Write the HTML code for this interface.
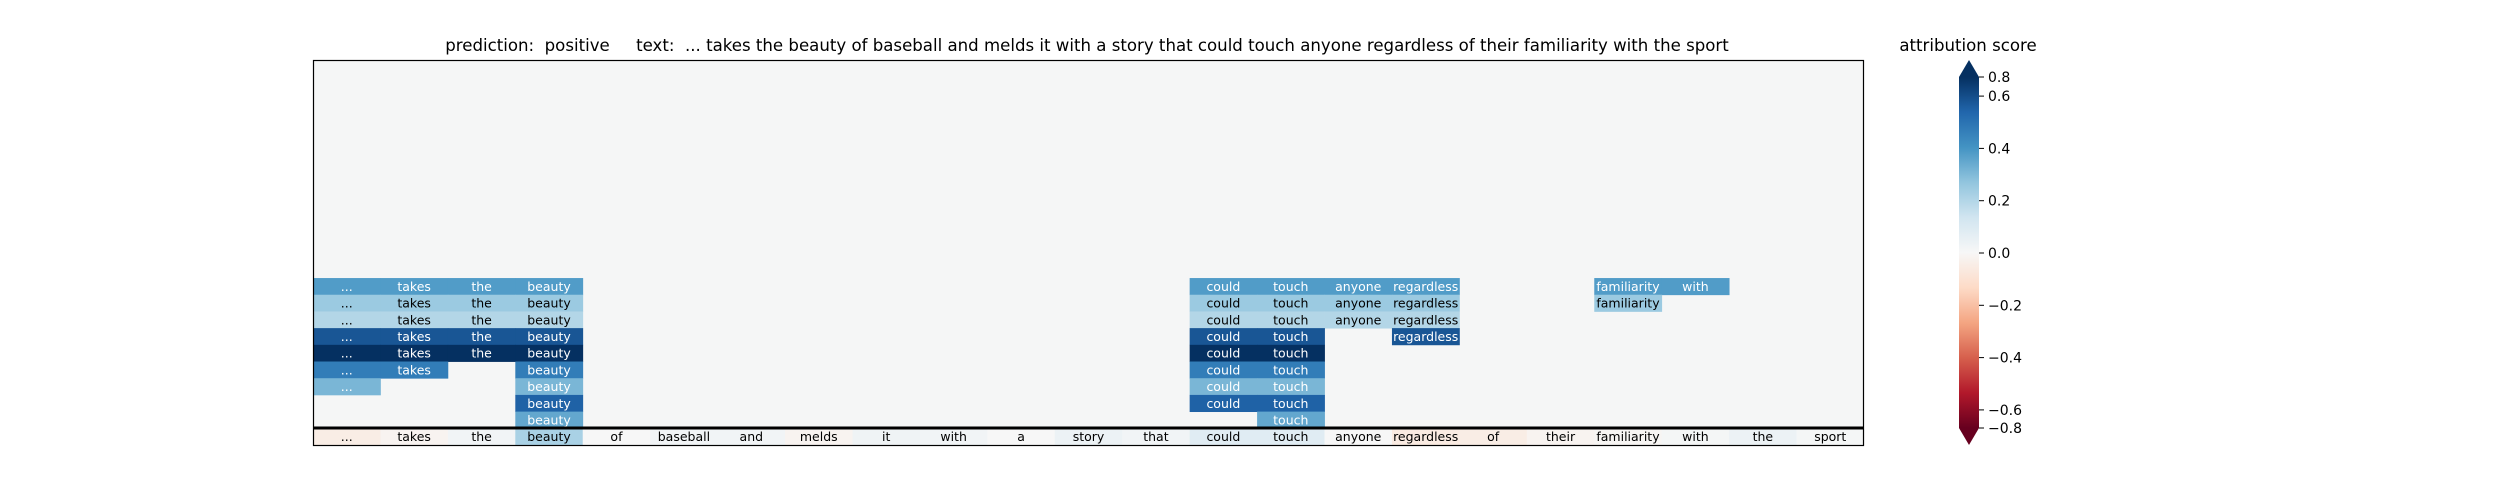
<!DOCTYPE html>
<html><head><meta charset="utf-8"><style>
html,body{margin:0;padding:0;background:#fff;}
svg{display:block;font-family:"DejaVu Sans","Liberation Sans",sans-serif;}
.pre{white-space:pre;}
</style></head><body>
<svg id="chart" width="2500" height="500" viewBox="0 0 2500 500" xmlns="http://www.w3.org/2000/svg">
<text class="pre" xml:space="preserve" x="1087" y="51" font-size="16.6" text-anchor="middle" fill="#000">prediction:  positive     text:  ... takes the beauty of baseball and melds it with a story that could touch anyone regardless of their familiarity with the sport</text>
<g id="cells"></g>
<g id="labels"></g>
<rect x="313.5" y="60.5" width="1550" height="385" fill="none" stroke="#000" stroke-width="1.2"/>
<line x1="313" x2="1864" y1="428" y2="428" stroke="#000" stroke-width="3"/>
<defs><linearGradient id="cbgrad" x1="0" y1="1" x2="0" y2="0">
<stop offset="0" stop-color="#67001f"/><stop offset="0.1" stop-color="#b2182b"/><stop offset="0.2" stop-color="#d6604d"/><stop offset="0.3" stop-color="#f4a582"/><stop offset="0.4" stop-color="#fddbc7"/><stop offset="0.5" stop-color="#f7f7f7"/><stop offset="0.6" stop-color="#d1e5f0"/><stop offset="0.7" stop-color="#92c5de"/><stop offset="0.8" stop-color="#4393c3"/><stop offset="0.9" stop-color="#2166ac"/><stop offset="1" stop-color="#053061"/>
</linearGradient></defs>
<g>
<polygon points="1959,77 1979,77 1969,60" fill="#053061"/>
<rect x="1959" y="77" width="20" height="351" fill="url(#cbgrad)"/>
<polygon points="1959,428 1979,428 1969,445" fill="#67001f"/>
<text x="1968" y="51" font-size="16.6" text-anchor="middle">attribution score</text>
<g id="cbticks"></g>
</g>
</svg>
<script>
const tokens=["...","takes","the","beauty","of","baseball","and","melds","it","with","a","story","that","could","touch","anyone","regardless","of","their","familiarity","with","the","sport"];
const firstRow=13;
const row13=[0.38,0.38,0.38,0.38,null,null,null,null,null,null,null,null,null,0.38,0.38,0.38,0.38,null,null,0.38,0.38,null,null];
const row14=[0.25,0.25,0.25,0.25,null,null,null,null,null,null,null,null,null,0.25,0.25,0.25,0.25,null,null,0.25,null,null,null];
const row15=[0.2,0.2,0.2,0.2,null,null,null,null,null,null,null,null,null,0.2,0.2,0.2,0.2,null,null,null,null,null,null];
const row16=[0.58,0.58,0.58,0.58,null,null,null,null,null,null,null,null,null,0.58,0.58,null,0.58,null,null,null,null,null,null];
const row17=[0.68,0.68,0.68,0.68,null,null,null,null,null,null,null,null,null,0.68,0.68,null,null,null,null,null,null,null,null];
const row18=[0.47,0.47,null,0.47,null,null,null,null,null,null,null,null,null,0.47,0.47,null,null,null,null,null,null,null,null];
const row19=[0.31,null,null,0.31,null,null,null,null,null,null,null,null,null,0.31,0.31,null,null,null,null,null,null,null,null];
const row20=[null,null,null,0.55,null,null,null,null,null,null,null,null,null,0.55,0.55,null,null,null,null,null,null,null,null];
const row21=[null,null,null,0.35,null,null,null,null,null,null,null,null,null,null,0.35,null,null,null,null,null,null,null,null];
const baseline=[-0.05,-0.02,0.02,0.22,0.0,0.02,0.02,-0.02,0.03,0.02,0.0,0.04,0.02,0.08,0.08,0.0,-0.06,-0.05,-0.02,-0.01,0.01,0.04,0.01];
const cbTickValues=[0.8,0.6,0.4,0.2,0.0,-0.2,-0.4,-0.6,-0.8];
const cbTickLabels=["0.8","0.6","0.4","0.2","0.0","\u22120.2","\u22120.4","\u22120.6","\u22120.8"];
const rows=[row13,row14,row15,row16,row17,row18,row19,row20,row21,baseline];

const X0=313,X1=1864,Y0=61,Y1=445,NR=23,NC=tokens.length,VMAX=0.674;
const cw=(X1-X0)/NC, rh=(Y1-Y0)/NR;
const xs=c=>X0+c*cw, ys=r=>Y0+r*rh;
const stops=["#67001f","#b2182b","#d6604d","#f4a582","#fddbc7","#f7f7f7","#d1e5f0","#92c5de","#4393c3","#2166ac","#053061"].map(h=>[1,3,5].map(i=>parseInt(h.substr(i,2),16)));
function cmap(v){let t=(Math.max(-VMAX,Math.min(VMAX,v))+VMAX)/(2*VMAX);let p=t*10,i=Math.min(9,Math.floor(p)),f=p-i;
 const a=stops[i],b=stops[i+1];return "rgb("+a.map((x,k)=>Math.round(x+(b[k]-x)*f)).join(",")+")";}
const NS="http://www.w3.org/2000/svg";
const gC=document.getElementById("cells"),gL=document.getElementById("labels");
const bg=document.createElementNS(NS,"rect");


bg.setAttribute("x",X0);bg.setAttribute("y",Y0);bg.setAttribute("width",X1-X0);bg.setAttribute("height",Y1-Y0);bg.setAttribute("fill","#f5f6f6");
gC.appendChild(bg);
rows.forEach((vals,ri)=>{const r=firstRow+ri;
 vals.forEach((v,c)=>{if(v===null)return;
  const rc=document.createElementNS(NS,"rect");
  
  
  rc.setAttribute("x",xs(c));rc.setAttribute("y",ys(r));rc.setAttribute("width",cw+0.4);rc.setAttribute("height",rh+0.4);rc.setAttribute("fill",cmap(v));
  gC.appendChild(rc);
  const tx=document.createElementNS(NS,"text");
  
  
  tx.setAttribute("x",xs(c)+cw/2);tx.setAttribute("y",ys(r)+rh/2+4.5);tx.setAttribute("font-size","12.5");tx.setAttribute("text-anchor","middle");
  tx.setAttribute("fill",Math.abs(v)>0.3?"#fff":"#000");tx.textContent=tokens[c];
  gL.appendChild(tx);});});
const cbY=v=>253-v/0.2*52.3;
const gT=document.getElementById("cbticks");
cbTickValues.forEach((v,i)=>{let y=Math.max(77,Math.min(428,cbY(v)));
 const l=document.createElementNS(NS,"line");
 
 
 l.setAttribute("x1",1979);l.setAttribute("x2",1984);l.setAttribute("y1",y);l.setAttribute("y2",y);l.setAttribute("stroke","#000");
 gT.appendChild(l);
 const t=document.createElementNS(NS,"text");
 
 
 t.setAttribute("x",1988);t.setAttribute("y",y+5);t.setAttribute("font-size","14");t.textContent=cbTickLabels[i];
 gT.appendChild(t);});
</script>
</body></html>
